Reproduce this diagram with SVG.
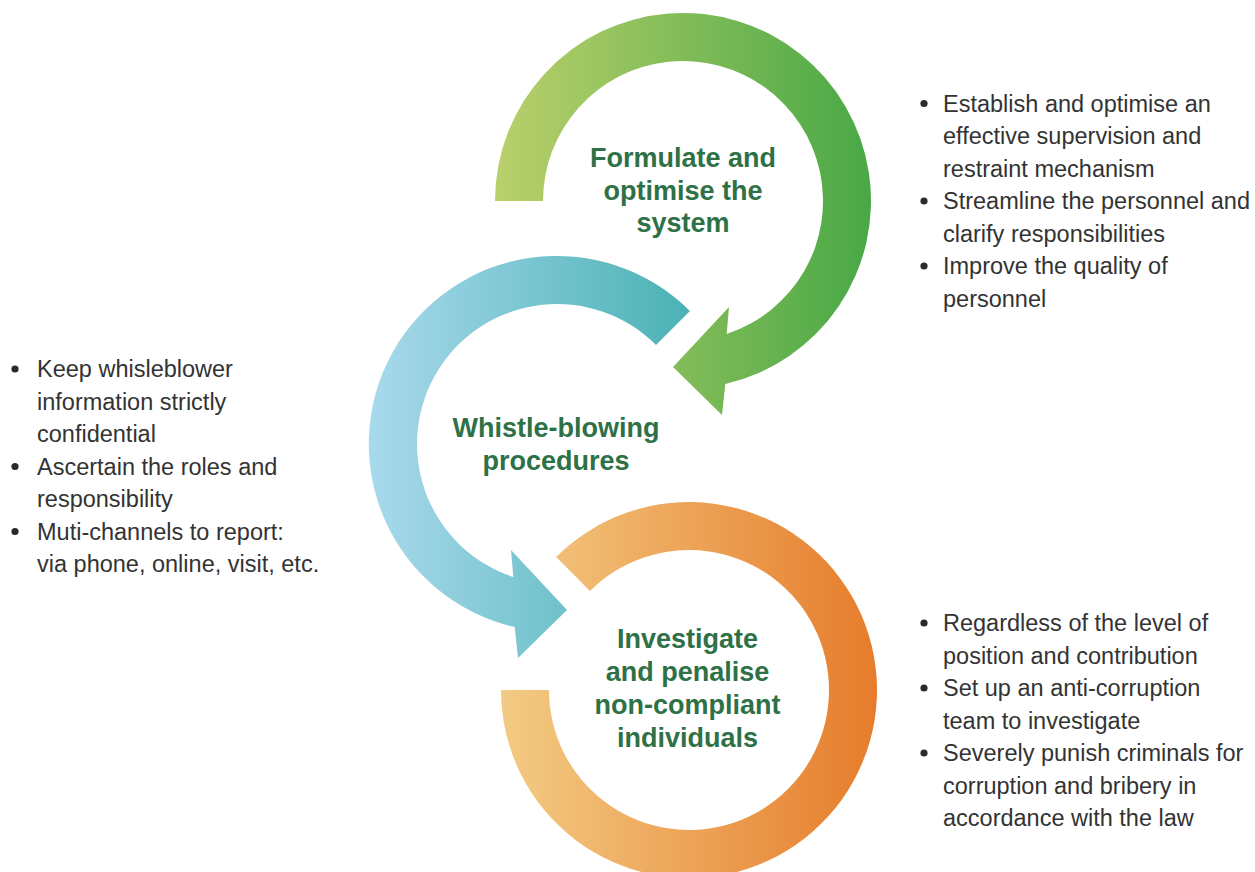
<svg xmlns="http://www.w3.org/2000/svg" width="1255" height="872" viewBox="0 0 1255 872">
<style>
.lbl{font-family:"Liberation Sans",Arial,sans-serif;font-weight:bold;font-size:27px;fill:#2e7146;text-anchor:middle}
.txt{font-family:"Liberation Sans",Arial,sans-serif;font-size:23.5px;fill:#333333}
.dot{fill:#2a2a2a}
</style>
<defs>
<linearGradient id="gGreen" x1="0" y1="0" x2="1" y2="0">
<stop offset="0" stop-color="#bad06b"/>
<stop offset="1" stop-color="#49a846"/>
</linearGradient>
<linearGradient id="gBlue" x1="0" y1="0" x2="1" y2="0">
<stop offset="0" stop-color="#a9d9ed"/>
<stop offset="1" stop-color="#4ab2b4"/>
</linearGradient>
<linearGradient id="gOrange" x1="0" y1="0" x2="1" y2="0">
<stop offset="0" stop-color="#f3cb84"/>
<stop offset="1" stop-color="#e67c2b"/>
</linearGradient>
</defs>
<rect width="1255" height="872" fill="#ffffff"/>

<g id="connectors">
<path id="ring-green" fill="url(#gGreen)" d="M495,201 A188,188 0 1 1 725.3,384.1 L722,415 L673,367 L729,307 L726.7,334 A140,140 0 1 0 543,201 Z"/>
<path id="ring-blue" fill="url(#gBlue)" d="M689.9,311.1 A188,188 0 1 0 514.7,627.1 L518,658 L567,610 L511,550 L513.3,577 A140,140 0 1 1 656,345 Z"/>
<path id="ring-orange" fill="url(#gOrange)" d="M501,690 A188,188 0 1 0 556.1,557.1 L590,591 A140,140 0 1 1 549,690 Z"/>
</g>

<g id="node-formulate">
<text class="lbl" x="683" y="167">Formulate and</text>
<text class="lbl" x="683" y="199.5">optimise the</text>
<text class="lbl" x="683" y="232">system</text>
</g>

<g id="node-whistle">
<text class="lbl" x="556" y="437">Whistle-blowing</text>
<text class="lbl" x="556" y="469.5">procedures</text>
</g>

<g id="node-investigate">
<text class="lbl" x="687.5" y="648">Investigate</text>
<text class="lbl" x="687.5" y="681">and penalise</text>
<text class="lbl" x="687.5" y="714">non-compliant</text>
<text class="lbl" x="687.5" y="747">individuals</text>
</g>

<g id="list-formulate">
<circle class="dot" cx="924" cy="103.5" r="3.6"/>
<circle class="dot" cx="924" cy="201" r="3.6"/>
<circle class="dot" cx="924" cy="266" r="3.6"/>
<text class="txt" x="943" y="111.5">Establish and optimise an</text>
<text class="txt" x="943" y="144">effective supervision and</text>
<text class="txt" x="943" y="176.5">restraint mechanism</text>
<text class="txt" x="943" y="209">Streamline the personnel and</text>
<text class="txt" x="943" y="241.5">clarify responsibilities</text>
<text class="txt" x="943" y="274">Improve the quality of</text>
<text class="txt" x="943" y="306.5">personnel</text>
</g>

<g id="list-whistle">
<circle class="dot" cx="15" cy="369" r="3.6"/>
<circle class="dot" cx="15" cy="466.5" r="3.6"/>
<circle class="dot" cx="15" cy="531.5" r="3.6"/>
<text class="txt" x="37" y="377">Keep whisleblower</text>
<text class="txt" x="37" y="409.5">information strictly</text>
<text class="txt" x="37" y="442">confidential</text>
<text class="txt" x="37" y="474.5">Ascertain the roles and</text>
<text class="txt" x="37" y="507">responsibility</text>
<text class="txt" x="37" y="539.5">Muti-channels to report:</text>
<text class="txt" x="37" y="572">via phone, online, visit, etc.</text>
</g>

<g id="list-investigate">
<circle class="dot" cx="924" cy="623" r="3.6"/>
<circle class="dot" cx="924" cy="688" r="3.6"/>
<circle class="dot" cx="924" cy="753" r="3.6"/>
<text class="txt" x="943" y="631">Regardless of the level of</text>
<text class="txt" x="943" y="663.5">position and contribution</text>
<text class="txt" x="943" y="696">Set up an anti-corruption</text>
<text class="txt" x="943" y="728.5">team to investigate</text>
<text class="txt" x="943" y="761">Severely punish criminals for</text>
<text class="txt" x="943" y="793.5">corruption and bribery in</text>
<text class="txt" x="943" y="826">accordance with the law</text>
</g>
</svg>
